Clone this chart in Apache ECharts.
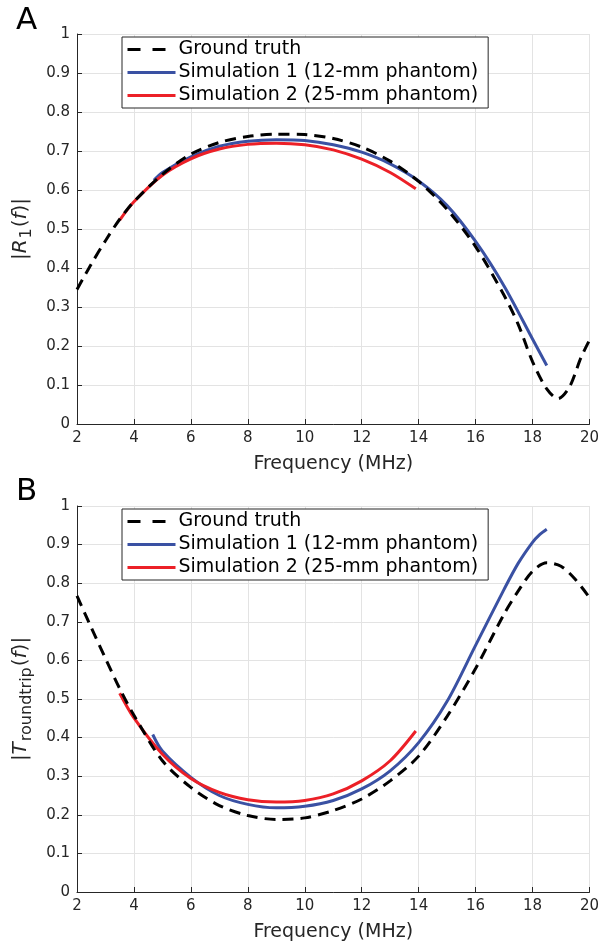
<!DOCTYPE html>
<html><head><meta charset="utf-8">
<script src="https://cdn.jsdelivr.net/npm/echarts@6/dist/echarts.min.js"></script>
<style>html,body{margin:0;padding:0;background:#fff}#c{width:602px;height:943px}</style>
</head><body><div id="c"></div>
<script>
// ---- Panel A: |R1(f)| ----
const gtFreqA = [2, 2.5, 3, 3.5, 4, 5, 6, 7, 8, 9, 10, 11, 12, 13, 14, 15, 16, 17, 17.5, 18, 18.5, 18.9, 19.3, 19.7, 20];
const gtValA  = [0.345, 0.41, 0.47, 0.525, 0.57, 0.64, 0.692, 0.722, 0.737, 0.743, 0.742, 0.732, 0.71, 0.674, 0.622, 0.55, 0.455, 0.33, 0.255, 0.16, 0.09, 0.065, 0.095, 0.17, 0.215];
const s1FreqA = [4.7, 5, 6, 7, 8, 9, 10, 11, 12, 13, 14, 15, 16, 17, 18, 18.5];
const s1ValA  = [0.625, 0.645, 0.685, 0.712, 0.725, 0.729, 0.727, 0.716, 0.697, 0.667, 0.623, 0.56, 0.468, 0.354, 0.218, 0.15];
const s2FreqA = [3.5, 4, 5, 6, 7, 8, 9, 10, 11, 12, 13, 13.9];
const s2ValA  = [0.523, 0.57, 0.638, 0.68, 0.705, 0.717, 0.72, 0.716, 0.703, 0.679, 0.645, 0.603];

// ---- Panel B: |T_roundtrip(f)| ----
const gtFreqB = [2, 2.5, 3, 3.5, 4, 5, 6, 7, 8, 9, 10, 11, 12, 13, 14, 15, 16, 17, 17.5, 18, 18.5, 19, 19.5, 20];
const gtValB  = [0.767, 0.685, 0.605, 0.527, 0.458, 0.34, 0.271, 0.224, 0.198, 0.188, 0.192, 0.211, 0.241, 0.288, 0.352, 0.455, 0.579, 0.72, 0.78, 0.831, 0.853, 0.844, 0.81, 0.763];
const s1FreqB = [4.66, 5, 6, 7, 8, 9, 10, 11, 12, 13, 14, 15, 16, 17, 17.5, 18, 18.25, 18.5];
const s1ValB  = [0.408, 0.365, 0.297, 0.25, 0.227, 0.218, 0.222, 0.237, 0.267, 0.314, 0.387, 0.494, 0.639, 0.784, 0.852, 0.906, 0.926, 0.94];
const s2FreqB = [3.5, 4, 5, 6, 7, 8, 9, 10, 11, 12, 13, 13.9];
const s2ValB  = [0.515, 0.451, 0.357, 0.294, 0.258, 0.239, 0.233, 0.237, 0.254, 0.288, 0.34, 0.417];

const xTicks = [2, 4, 6, 8, 10, 12, 14, 16, 18, 20];
const yTicks = [0, 0.1, 0.2, 0.3, 0.4, 0.5, 0.6, 0.7, 0.8, 0.9, 1];
const seriesNames = ['Ground truth', 'Simulation 1 (12-mm phantom)', 'Simulation 2 (25-mm phantom)'];
const colors = ['#000000', '#3a51a3', '#ec2027'];

const FONT = 'DejaVu Sans';
const pairs = (xs, ys) => xs.map((x, i) => [x, ys[i]]);

function xAxis(gi) {
  return {
    gridIndex: gi, type: 'value', min: 2, max: 20, interval: 2,
    name: 'Frequency (MHz)', nameLocation: 'middle', nameGap: 31,
    nameTextStyle: { fontFamily: FONT, fontSize: 19, color: '#262626' },
    axisLine: { show: true, lineStyle: { color: '#262626', width: 1 } },
    axisTick: { show: true, inside: true, length: 5, lineStyle: { color: '#262626' } },
    axisLabel: { fontFamily: FONT, fontSize: 15, color: '#262626', margin: 7,
      formatter: v => xTicks.includes(v) ? String(v) : '' },
    splitLine: { show: true, lineStyle: { color: '#e3e3e3', width: 1 } }
  };
}
function yAxis(gi, name) {
  return {
    gridIndex: gi, type: 'value', min: 0, max: 1, interval: 0.1,
    name: name, nameLocation: 'middle', nameGap: 36, nameRotate: 90,
    nameTextStyle: { fontFamily: FONT, fontSize: 20, color: '#262626',
      rich: {
        i: { fontFamily: FONT, fontSize: 20, fontStyle: 'italic', color: '#262626' },
        it: { fontFamily: FONT, fontSize: 20, fontStyle: 'italic', color: '#262626', padding: [0, 1, 0, 0] },
        n: { fontFamily: FONT, fontSize: 20, color: '#262626' },
        sub: { fontFamily: FONT, fontSize: 16, color: '#262626', padding: [12, 1, 0, 0] }
      } },
    axisLine: { show: true, lineStyle: { color: '#262626', width: 1 } },
    axisTick: { show: true, inside: true, length: 5, lineStyle: { color: '#262626' } },
    axisLabel: { fontFamily: FONT, fontSize: 15, color: '#262626', margin: 7,
      formatter: v => { const t = yTicks.find(k => Math.abs(k - v) < 1e-9); return t === undefined ? '' : String(t); } },
    splitLine: { show: true, lineStyle: { color: '#e3e3e3', width: 1 } }
  };
}
function mkSeries(gi, data) {
  return data.map((d, k) => ({
    name: seriesNames[k], type: 'line', xAxisIndex: gi, yAxisIndex: gi,
    data: d, symbol: 'none', smooth: 0.3, z: k === 0 ? 4 : (k === 1 ? 2 : 3),
    lineStyle: { color: colors[k], width: 3, type: k === 0 ? [11, 7] : 'solid' },
    itemStyle: { color: colors[k] }
  }));
}
function legend(top) {
  return {
    orient: 'vertical', left: 122, top: top,
    data: [
      { name: seriesNames[0], lineStyle: { type: [13, 12], width: 3 } },
      { name: seriesNames[1], lineStyle: { width: 3 } },
      { name: seriesNames[2], lineStyle: { width: 3 } }
    ],
    backgroundColor: '#ffffff', borderColor: '#262626', borderWidth: 1, borderRadius: 0,
    padding: [3, 10, 3, 4], itemGap: 4, itemWidth: 48, itemHeight: 19,
    itemStyle: { opacity: 0 },
    textStyle: { fontFamily: FONT, fontSize: 19, color: '#000', padding: [0, 0, 0, -2] }
  };
}

const chart = echarts.init(document.getElementById('c'), null, { renderer: 'canvas' });
chart.setOption({
  backgroundColor: '#ffffff',
  animation: false,
  color: colors,
  grid: [
    { left: 77, right: 10, top: 34, height: 390 },
    { left: 77, right: 10, top: 506, height: 390 }
  ],
  xAxis: [xAxis(0), xAxis(1)],
  yAxis: [yAxis(0, '|{it|R}{sub|1}{n|(}{i|f}{n|)}|'), yAxis(1, '|{it|T}{sub|roundtrip}{n|(}{i|f}{n|)}|')],
  legend: [legend(37), legend(509)],
  graphic: [
    { type: 'text', left: 16, top: 5, style: { text: 'A', fontFamily: FONT, fontSize: 31, fill: '#000' } },
    { type: 'text', left: 16, top: 476, style: { text: 'B', fontFamily: FONT, fontSize: 31, fill: '#000' } }
  ],
  series: [
    ...mkSeries(0, [pairs(gtFreqA, gtValA), pairs(s1FreqA, s1ValA), pairs(s2FreqA, s2ValA)]),
    ...mkSeries(1, [pairs(gtFreqB, gtValB), pairs(s1FreqB, s1ValB), pairs(s2FreqB, s2ValB)])
  ]
});
</script></body></html>
